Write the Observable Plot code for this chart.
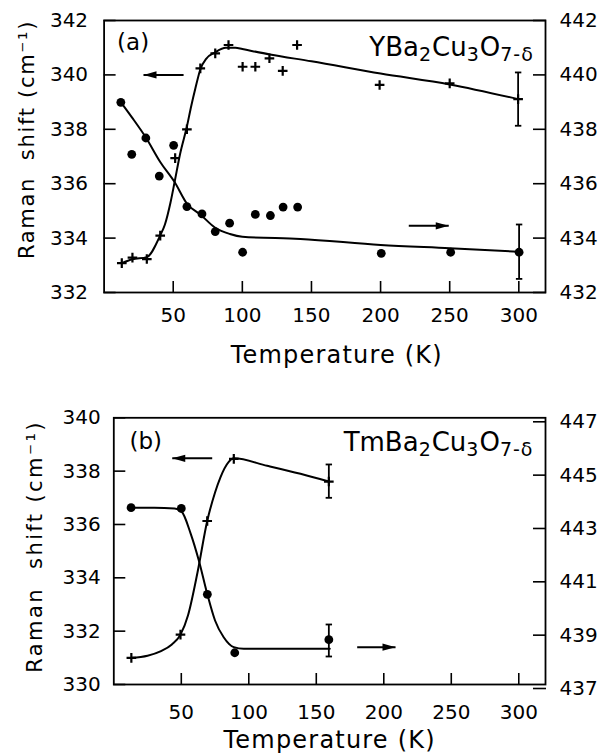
<!DOCTYPE html>
<html><head><meta charset="utf-8">
<script src="https://cdn.jsdelivr.net/npm/d3@7"></script>
<script src="https://cdn.jsdelivr.net/npm/@observablehq/plot@0.6"></script>
<style>html,body{margin:0;padding:0;background:#fff;overflow:hidden;} #chart svg{display:block;}</style>
</head><body><div id="chart"></div>
<script>
// ---------- shared ----------
const xTicks = [50, 100, 150, 200, 250, 300];
const xTitle = "Temperature (K)";
const yTitle = "Raman  shift (cm⁻¹)";

// ---------- panel (a): YBa2Cu3O7-δ ----------
const aTag = "(a)";
const aFormulaParts = [["YBa", false], ["2", true], ["Cu", false], ["3", true], ["O", false], ["7-δ", true]];
const aLeftTicks = [332, 334, 336, 338, 340, 342];
const aRightTicks = [432, 434, 436, 438, 440, 442];
const aRightOffset = 100;
// crosses (left axis)
const aCrossT = [12.8, 20.5, 30.9, 40.6, 51.4, 59.9, 69.6, 80.4, 90, 100.2, 109.4, 119.6, 129.2, 139.6, 199.3, 250, 299.5];
const aCrossV = [333.08, 333.28, 333.23, 334.09, 336.94, 338.0, 340.24, 340.79, 341.1, 340.3, 340.3, 340.61, 340.15, 341.1, 339.63, 339.69, 339.11];
// dots (right axis)
const aDotT = [12.1, 20, 30.2, 39.9, 50.3, 59.9, 70.8, 80.4, 90.8, 100.2, 109.4, 120.3, 129.5, 140, 200.5, 250.7, 300.2];
const aDotV = [438.99, 437.08, 437.68, 436.28, 437.41, 435.16, 434.89, 434.24, 434.55, 433.48, 434.87, 434.83, 435.14, 435.14, 433.44, 433.48, 433.48];
// fitted curves
const aCrossCurveT = [12.8, 20.5, 30.9, 40.6, 44, 48, 51, 55, 59.9, 63, 66, 69.6, 74, 80, 88, 95, 100, 120, 150, 200, 250, 299.5];
const aCrossCurveV = [333.08, 333.22, 333.3, 334.1, 334.5, 335.3, 336.06, 337.1, 338.1, 338.85, 339.5, 340.2, 340.6, 340.82, 341.0, 341.0, 340.95, 340.75, 340.5, 340.05, 339.65, 339.11];
const aDotCurveT = [12.1, 20, 30.2, 40.6, 51, 60, 70, 80.4, 91, 100, 142, 200, 250, 300.2];
const aDotCurveV = [439.0, 438.45, 437.7, 436.8, 436.06, 435.26, 434.85, 434.38, 434.15, 434.05, 433.97, 433.75, 433.63, 433.5];
// error bars
const aCrossErr = {t: 299.5, lo: 338.13, hi: 340.09};
const aDotErr = {t: 300.2, lo: 432.5, hi: 434.5};
// arrows (left-axis units): tail, tip, level
const aArrowTail = [57.5, 220.4];
const aArrowTip = [28.5, 249.3];
const aArrowV = [340.0, 334.45];

// ---------- panel (b): TmBa2Cu3O7-δ ----------
const bTag = "(b)";
const bFormulaParts = [["TmBa", false], ["2", true], ["Cu", false], ["3", true], ["O", false], ["7-δ", true]];
const bLeftTicks = [330, 332, 334, 336, 338, 340];
const bRightTicks = [437, 439, 441, 443, 445, 447];
const bRightOffset = 107.15;
const bCrossT = [13, 49.4, 69.2, 88.9, 159.3];
const bCrossV = [331.0, 331.87, 336.13, 338.46, 337.61];
const bDotT = [12.8, 50, 69.3, 89.6, 159.3];
const bDotV = [443.78, 443.75, 440.53, 438.34, 438.83];
const bCrossCurveT = [13, 25, 35, 43, 49.4, 55, 62, 69.2, 75, 79, 85, 89, 113.6, 138.3, 159.3];
const bCrossCurveV = [331.0, 331.08, 331.25, 331.5, 331.87, 332.6, 334.2, 336.13, 337.2, 337.77, 338.34, 338.48, 338.2, 337.9, 337.61];
const bDotCurveT = [12.8, 30, 45, 50, 57, 63, 69.3, 75, 81.4, 88.9, 96.3, 160];
const bDotCurveV = [443.78, 443.78, 443.75, 443.65, 442.8, 441.8, 440.53, 439.55, 438.92, 438.55, 438.49, 438.49];
const bCrossErr = {t: 159.3, lo: 337.0, hi: 338.25};
const bDotErr = {t: 159.3, lo: 438.2, hi: 439.4};
const bArrowTail = [72.9, 180.3];
const bArrowTip = [43.3, 208.7];
const bArrowV = [338.48, 331.4];

// ---------- helpers ----------
const FONT = "'DejaVu Sans', sans-serif";
const SVGNS = "http://www.w3.org/2000/svg";
const capSym = {draw(ctx, size) { const r = Math.sqrt(size / Math.PI); ctx.moveTo(-r, 0); ctx.lineTo(r, 0); }};
const headLeft = {draw(ctx, size) { const r = Math.sqrt(size / Math.PI); ctx.moveTo(-r, 0); ctx.lineTo(r, -r * 0.55); ctx.lineTo(r, r * 0.55); ctx.closePath(); }};
const headRight = {draw(ctx, size) { const r = Math.sqrt(size / Math.PI); ctx.moveTo(r, 0); ctx.lineTo(-r, -r * 0.55); ctx.lineTo(-r, r * 0.55); ctx.closePath(); }};
const zip = (T, V, off = 0) => T.map((t, i) => ({t, v: V[i] - off}));

function makePanel(p) {
  const crosses = zip(p.crossT, p.crossV);
  const dots = zip(p.dotT, p.dotV, p.off);
  const crossCurve = zip(p.crossCurveT, p.crossCurveV);
  const dotCurve = zip(p.dotCurveT, p.dotCurveV, p.off);
  const errs = [
    {t: p.crossErr.t, lo: p.crossErr.lo, hi: p.crossErr.hi},
    {t: p.dotErr.t, lo: p.dotErr.lo - p.off, hi: p.dotErr.hi - p.off}
  ];
  const caps = errs.flatMap(e => [{t: e.t, v: e.lo}, {t: e.t, v: e.hi}]);
  const arrows = p.arrowTail.map((tail, i) => ({tail, tip: p.arrowTip[i], v: p.arrowV[i], left: p.arrowTip[i] < tail}));
  const rTicksL = p.rTicks.map(t => t - p.off);
  const formula = p.formulaParts.map(d => d[0]).join("");
  const HR = 6.5;
  const svg = Plot.plot({
    width: 603, height: p.height,
    marginTop: p.mt, marginRight: p.mr, marginBottom: p.mb, marginLeft: p.ml,
    x: {domain: p.xDomain, axis: null},
    y: {domain: p.yDomain, axis: null},
    style: {fontFamily: FONT, fontSize: "20px", color: "black", background: "white", overflow: "visible"},
    marks: [
      Plot.frame({stroke: "black", strokeWidth: 1.8}),
      Plot.axisX({ticks: xTicks, anchor: "bottom", tickSize: 0, tickPadding: p.xPad, fontSize: 20, label: null}),
      Plot.axisX({ticks: xTicks, anchor: "bottom", tickSize: 11, dy: -11, tickFormat: () => "", label: null, strokeWidth: 1.6}),
      Plot.axisY({ticks: p.lTicks, anchor: "left", tickSize: 0, tickPadding: p.yPad, fontSize: 20, label: null}),
      Plot.axisY({ticks: p.lTicks, anchor: "left", tickSize: 12, dx: 12, tickFormat: () => "", label: null, strokeWidth: 1.6}),
      Plot.axisY({ticks: rTicksL, anchor: "right", tickSize: 0, tickPadding: 14, fontSize: 20, label: null, tickFormat: d => String(Math.round(d + p.off))}),
      Plot.axisY({ticks: rTicksL, anchor: "right", tickSize: 13, dx: -13, tickFormat: () => "", label: null, strokeWidth: 1.6}),
      Plot.line(crossCurve, {x: "t", y: "v", curve: "monotone-x", stroke: "black", strokeWidth: 2}),
      Plot.line(dotCurve, {x: "t", y: "v", curve: "monotone-x", stroke: "black", strokeWidth: 2}),
      Plot.ruleX(errs, {x: "t", y1: "lo", y2: "hi", stroke: "black", strokeWidth: 1.8}),
      Plot.dot(caps, {x: "t", y: "v", symbol: capSym, r: 3.2, fill: "none", stroke: "black", strokeWidth: 1.8}),
      Plot.dot(crosses, {x: "t", y: "v", symbol: "plus", r: 3.2, stroke: "black", strokeWidth: 2.2}),
      Plot.dot(dots, {x: "t", y: "v", r: 4.4, fill: "black", stroke: null}),
      Plot.link(arrows, {x1: "tail", x2: "tip", y1: "v", y2: "v", stroke: "black", strokeWidth: 2}),
      Plot.dot(arrows.filter(a => a.left), {x: "tip", y: "v", symbol: headLeft, r: HR, dx: HR, fill: "black", stroke: "none"}),
      Plot.dot(arrows.filter(a => !a.left), {x: "tip", y: "v", symbol: headRight, r: HR, dx: -HR, fill: "black", stroke: "none"}),
      Plot.text([p.tag], {text: d => d, frameAnchor: "top-left", textAnchor: "start", lineAnchor: "middle", dx: p.tagDx, dy: p.tagDy, fontSize: 23}),
      Plot.text([formula], {text: d => d, frameAnchor: "top-right", textAnchor: "end", lineAnchor: "bottom", dx: p.fDx, dy: p.fDy, fontSize: 26}),
      Plot.text([xTitle], {text: d => d, frameAnchor: "bottom", textAnchor: "middle", lineAnchor: "bottom", dx: p.xtDx, dy: p.xtDy, fontSize: 24}),
      Plot.text([yTitle], {text: d => d, frameAnchor: "left", rotate: -90, textAnchor: "middle", lineAnchor: "bottom", dx: p.ytDx, dy: p.ytDy, fontSize: 21})
    ]
  });
  // post-process: subscripts and letter spacing
  svg.querySelectorAll("text").forEach(t => {
    const s = t.textContent;
    if (s === formula) {
      while (t.firstChild) t.removeChild(t.firstChild);
      let cur = 0;
      p.formulaParts.forEach(([str, sub]) => {
        const ts = document.createElementNS(SVGNS, "tspan");
        const target = sub ? 5 : 0;
        if (target !== cur) ts.setAttribute("dy", target - cur);
        cur = target;
        ts.setAttribute("font-size", sub ? 19 : 26);
        if (sub) ts.setAttribute("letter-spacing", "1");
        ts.textContent = str;
        t.appendChild(ts);
      });
    } else if (s === xTitle) {
      t.setAttribute("letter-spacing", "1.2");
    } else if (s === yTitle) {
      t.setAttribute("letter-spacing", p.ytLs);
    }
  });
  return svg;
}

const chart = document.getElementById("chart");
chart.appendChild(makePanel({
  height: 385, mt: 20, mr: 58, mb: 93, ml: 103.6,
  xDomain: [0, 319.3], yDomain: [332, 342],
  lTicks: aLeftTicks, rTicks: aRightTicks, off: aRightOffset,
  crossT: aCrossT, crossV: aCrossV, dotT: aDotT, dotV: aDotV,
  crossCurveT: aCrossCurveT, crossCurveV: aCrossCurveV, dotCurveT: aDotCurveT, dotCurveV: aDotCurveV,
  crossErr: aCrossErr, dotErr: aDotErr,
  arrowTail: aArrowTail, arrowTip: aArrowTip, arrowV: aArrowV,
  tag: aTag, formulaParts: aFormulaParts,
  xPad: 15, yPad: 16, tagDx: 13, tagDy: 22, fDx: -11.7, fDy: 35.7,
  xtDx: 12, xtDy: 70, ytDx: -70.6, ytDy: -17, ytLs: "1.7"
}));
chart.appendChild(makePanel({
  height: 369, mt: 32.3, mr: 58, mb: 70, ml: 113.3,
  xDomain: [0, 319.8], yDomain: [330, 340],
  lTicks: bLeftTicks, rTicks: bRightTicks, off: bRightOffset,
  crossT: bCrossT, crossV: bCrossV, dotT: bDotT, dotV: bDotV,
  crossCurveT: bCrossCurveT, crossCurveV: bCrossCurveV, dotCurveT: bDotCurveT, dotCurveV: bDotCurveV,
  crossErr: bCrossErr, dotErr: bDotErr,
  arrowTail: bArrowTail, arrowTip: bArrowTip, arrowV: bArrowV,
  tag: bTag, formulaParts: bFormulaParts,
  xPad: 20, yPad: 13, tagDx: 15.7, tagDy: 23.7, fDx: -12, fDy: 33.4,
  xtDx: 0, xtDy: 63, ytDx: -71.6, ytDy: -4.7, ytLs: "2.4"
}));
</script></body></html>
